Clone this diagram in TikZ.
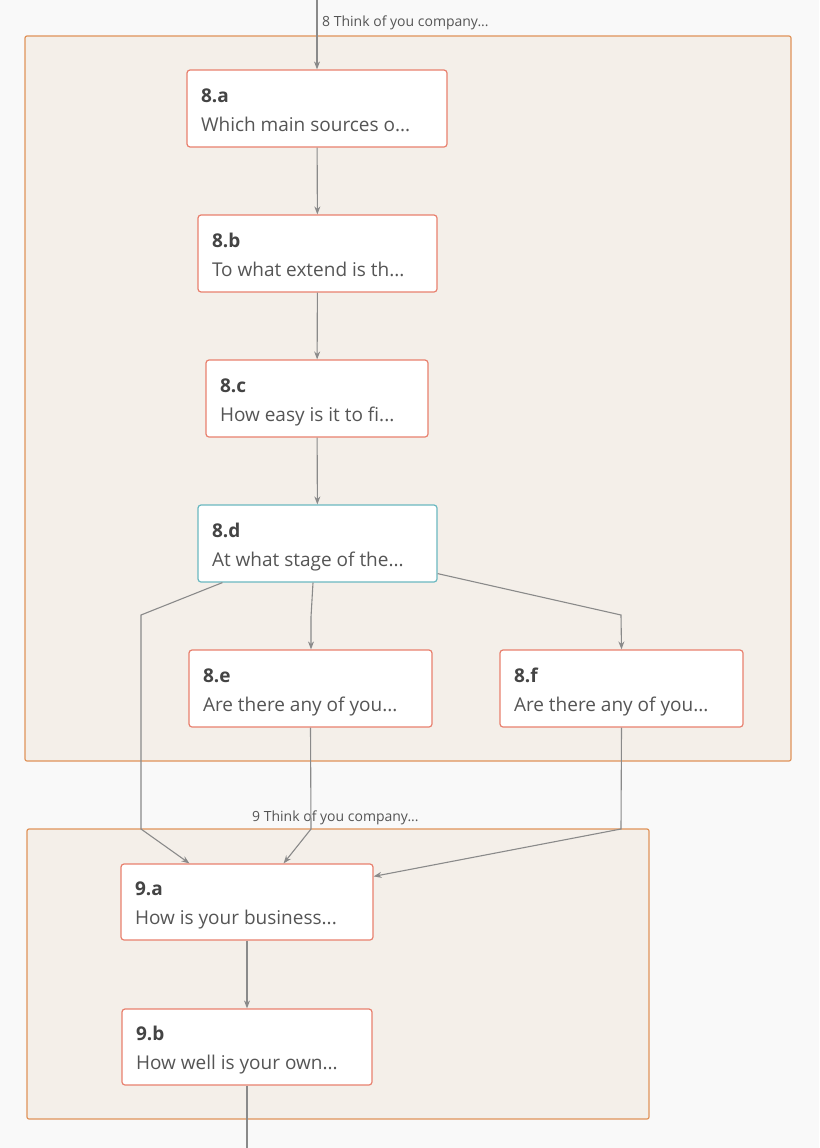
\documentclass[tikz,border=0pt]{standalone}
\usepackage{fontspec}
\setmainfont{Open Sans}
\usetikzlibrary{arrows.meta,calc}
\definecolor{pagebg}{HTML}{F9F9F9}
\definecolor{groupfill}{HTML}{F4EFE9}
\definecolor{groupline}{HTML}{E0935A}
\definecolor{qline}{HTML}{E8806E}
\definecolor{qteal}{HTML}{6AB8C0}
\definecolor{edgecol}{HTML}{8A8A8A}
\definecolor{titletext}{HTML}{444444}
\definecolor{bodytext}{HTML}{555555}
\tikzset{
  groupbox/.style={draw=groupline, fill=groupfill, line width=1.2pt, rounded corners=2pt},
  grouplabel/.style={anchor=base west, inner sep=0pt, font=\fontsize{14}{16}\selectfont, text=bodytext},
  qbox/.style={draw=qline, fill=white, line width=1.2pt, rounded corners=3pt,
    minimum height=77pt, inner xsep=14pt, inner ysep=0pt, align=left,
    font=\fontsize{19}{29}\selectfont, text=bodytext},
  qteal/.style={qbox, draw=qteal},
  edge/.style={draw=edgecol, line width=1.1pt, -{Stealth[length=8pt,width=6pt]}},
  plainedge/.style={draw=edgecol, line width=1.1pt},
}
% two-line question card: bold number, then the truncated question
\newcommand{\qtext}[3]{\parbox{#1pt}{\rule{0pt}{22pt}\textcolor{titletext}{\textbf{#2}}\\#3\rule[-6pt]{0pt}{6pt}}}
\begin{document}
\begin{tikzpicture}[x=1pt,y=-1pt]
  \fill[pagebg] (0,0) rectangle (819,1148);
  \useasboundingbox (0,0) rectangle (819,1148);

  % section containers
  \draw[groupbox] (25,36) rectangle (791,761);
  \draw[groupbox] (27,829) rectangle (649,1119);
  \node[grouplabel] (g8) at (322,27) {8 Think of you company...};
  \node[grouplabel] (g9) at (252,821) {9 Think of you company...};

  % questions
  \node[qbox, minimum width=260pt] (n8a) at (317,108.5) {\qtext{232}{8.a}{Which main sources o...}};
  \node[qbox, minimum width=239pt] (n8b) at (317.5,253.5) {\qtext{211}{8.b}{To what extend is th...}};
  \node[qbox, minimum width=222pt] (n8c) at (317,398.5) {\qtext{194}{8.c}{How easy is it to fi...}};
  \node[qteal, minimum width=239pt] (n8d) at (317.5,543.5) {\qtext{211}{8.d}{At what stage of the...}};
  \node[qbox, minimum width=243pt] (n8e) at (310.5,688.5) {\qtext{215}{8.e}{Are there any of you...}};
  \node[qbox, minimum width=243pt] (n8f) at (621.5,688.5) {\qtext{215}{8.f}{Are there any of you...}};
  \node[qbox, minimum width=252pt, minimum height=76pt] (n9a) at (247,902) {\qtext{224}{9.a}{How is your business...}};
  \node[qbox, minimum width=250pt, minimum height=76pt] (n9b) at (247,1047) {\qtext{222}{9.b}{How well is your own...}};

  % connector ends and bends
  \coordinate (in8) at (317,0);
  \coordinate (out9) at (247,1148);
  \coordinate (b1) at (141,615);
  \coordinate (b2) at (141,829);
  \coordinate (b3) at (311,617);
  \coordinate (b4) at (621,615);
  \coordinate (b5) at (311,829);
  \coordinate (b6) at (621,829);

  % connectors
  \draw[edge] (in8) -- (n8a.north);
  \draw[edge] (n8a) -- (n8b);
  \draw[edge] (n8b) -- (n8c);
  \draw[edge] (n8c) -- (n8d);
  \draw[edge] ([xshift=25pt]n8d.south west) -- (b1) -- (b2) -- ([xshift=69pt]n9a.north west);
  \draw[edge] ([xshift=-4.5pt]n8d.south) -- (b3) -- (b3 |- n8e.north);
  \draw[edge] ([yshift=9pt]n8d.south east) -- (b4) -- (n8f.north);
  \draw[edge] (n8e.south) -- (b5) -- ([xshift=-90pt]n9a.north east);
  \draw[edge] (n8f.south) -- (b6) -- ([yshift=-13pt]n9a.north east);
  \draw[edge] (n9a) -- (n9b);
  \draw[plainedge] (n9b.south) -- (out9);
\end{tikzpicture}
\end{document}
